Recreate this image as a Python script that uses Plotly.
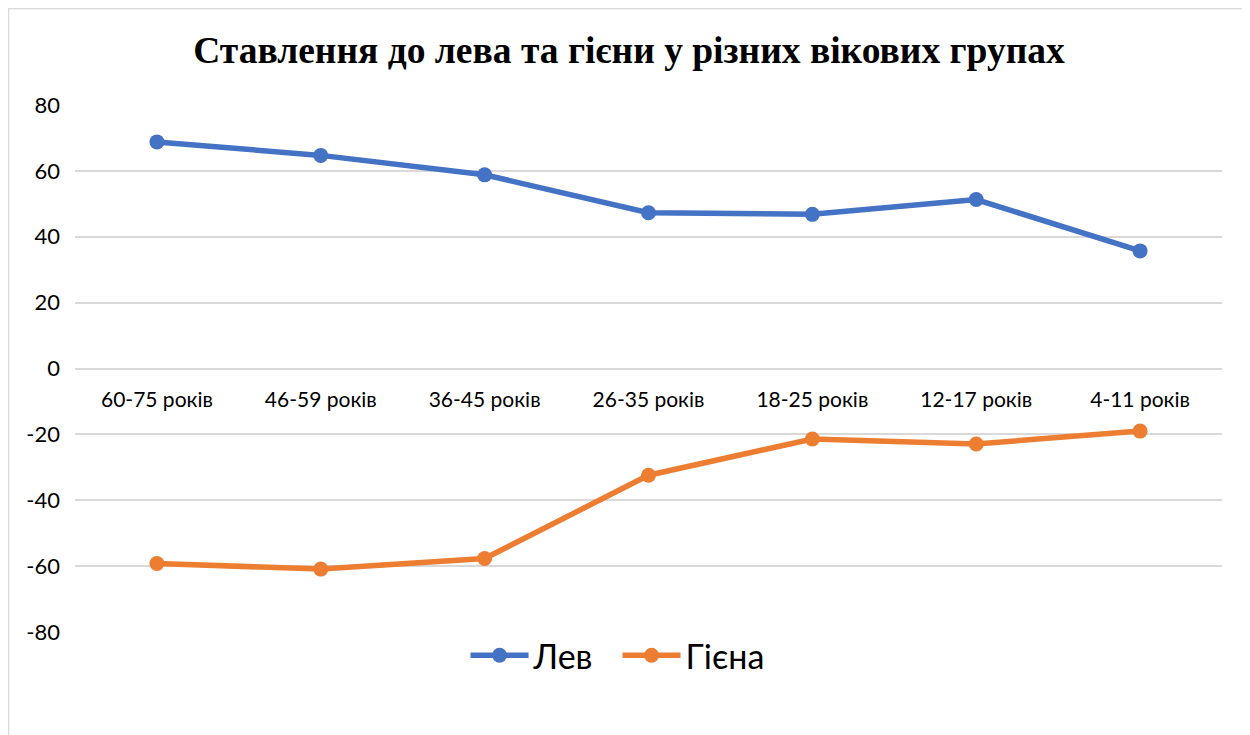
"""Attitude to lion and hyena across age groups: line chart."""

import plotly.graph_objects as go

CATEGORIES = ["60-75 років", "46-59 років", "36-45 років", "26-35 років",
              "18-25 років", "12-17 років", "4-11 років"]
LION = [68.8, 64.7, 58.8, 47.3, 46.8, 51.3, 35.7]
HYENA = [-59.2, -60.9, -57.7, -32.4, -21.4, -22.9, -19.0]
Y_TICKS = [-80, -60, -40, -20, 0, 20, 40, 60, 80]

TITLE = "Ставлення до лева та гієни у різних вікових групах"
BLUE = "#4472C4"
ORANGE = "#ED7D31"
GRID = "#D9D9D9"
FONT = "Lato, 'Open Sans', sans-serif"

# the page body has an 8px margin, so the figure is sized/offset to compensate
W, H = 1242, 727

fig = go.Figure()
for name, values, color in [("Лев", LION, BLUE), ("Гієна", HYENA, ORANGE)]:
    fig.add_trace(go.Scatter(
        x=CATEGORIES, y=values, name=name, mode="lines+markers",
        line=dict(color=color, width=5.5),
        marker=dict(color=color, size=15),
    ))

fig.update_layout(
    width=W, height=H,
    margin=dict(l=67, r=28, t=97, b=103),
    paper_bgcolor="white", plot_bgcolor="white",
    font=dict(family=FONT, size=20, color="#000000"),
    title=dict(
        text=f"<b>{TITLE}</b>", x=0.5, xanchor="center", y=0.942, yanchor="middle",
        font=dict(family="'Liberation Serif', 'Times New Roman', serif", size=37.5, color="#000000"),
    ),
    showlegend=True,
    legend=dict(
        orientation="h", x=0.473, xanchor="center", y=-0.045, yanchor="middle",
        font=dict(size=34, color="#000000"), itemwidth=58,
        entrywidth=79, entrywidthmode="pixels",
    ),
    xaxis=dict(
        type="category", range=[-0.5, 6.5], anchor="free", position=0.5,
        showgrid=False, showline=False, ticks="", ticklen=0,
        tickfont=dict(size=21), ticklabelstandoff=16, fixedrange=True,
    ),
    yaxis=dict(
        range=[-80, 80], tickvals=Y_TICKS, ticktext=[str(v) for v in Y_TICKS],
        showgrid=True, gridcolor=GRID, gridwidth=1.5,
        zeroline=True, zerolinecolor=GRID, zerolinewidth=1.5, showline=False,
        tickfont=dict(size=22), ticks="", ticklabelstandoff=14,
    ),
    shapes=[dict(
        type="rect", xref="paper", yref="paper",
        x0=(0.5 - 67) / 1147, x1=(1240 - 67) / 1147,
        y0=-0.3, y1=1 + (97 - 0.5) / 527,
        line=dict(color=GRID, width=1.5), layer="below",
    )],
)

fig.write_html("out.html")
